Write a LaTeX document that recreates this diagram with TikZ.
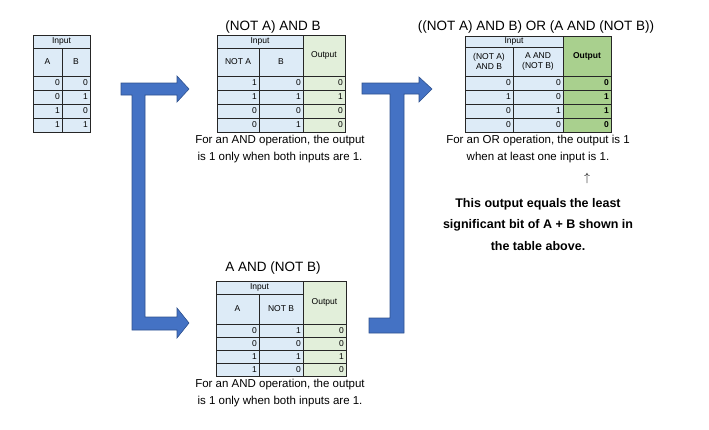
\documentclass[tikz,border=0pt]{standalone}
\usepackage{fontspec}
\setmainfont{Liberation Sans}
\definecolor{inb}{HTML}{DDEBF7}
\definecolor{outl}{HTML}{E2EFDA}
\definecolor{outd}{HTML}{A9D08E}
\definecolor{arrf}{HTML}{4472C4}
\definecolor{arrd}{HTML}{2F528F}
\tikzset{
  cl/.style={draw=black!85,line width=0.8pt},
  tx/.style={inner sep=0pt,font=\fontsize{8.5}{9.5}\selectfont,align=center},
  captxt/.style={inner sep=0pt,align=center,font=\fontsize{11.5}{17}\selectfont},
  ttl/.style={inner sep=0pt,font=\fontsize{13.5}{16}\selectfont},
  barrow/.style={fill=arrf,draw=arrd,line width=0.6pt}
}
\newcommand\drow[5]{%
  \draw[cl,fill=inb] (\xa,#2) rectangle (\xb,{#2+\rh});
  \draw[cl,fill=inb] (\xb,#2) rectangle (\xc,{#2+\rh});
  \node[tx,anchor=east] (#1a) at ({\xb-2},{#2+\rh/2}) {#3};
  \node[tx,anchor=east] (#1b) at ({\xc-2},{#2+\rh/2}) {#4};
  \ifx\xd\relax\else
  \draw[cl,fill=\ocol] (\xc,#2) rectangle (\xd,{#2+\rh});
  \node[tx,anchor=east,font=\fontsize{8.5}{9.5}\selectfont\ofont] (#1o) at ({\xd-2},{#2+\rh/2}) {#5};
  \fi}
\begin{document}
\begin{tikzpicture}[x=1pt,y=-1pt]
\useasboundingbox (0,0) rectangle (709,429);
% arrows
\draw[barrow] (121,83)--(177,83)--(177,76)--(189,89)--(177,102)--(177,95)--(145,95)--(145,317)--(177,317)--(177,308)--(189,323)--(177,338)--(177,330)--(132,330)--(132,95)--(121,95)--cycle;
\draw[barrow] (362,83)--(419,83)--(419,77)--(432,89)--(419,102)--(419,94)--(404,94)--(404,333)--(369,333)--(369,318)--(390,318)--(390,94)--(362,94)--cycle;
% table 1
\def\xa{33}\def\xb{62}\def\xc{90}\let\xd\relax\def\rh{14}
\draw[cl,fill=inb] (33,35) rectangle (90,48);
\node[tx] (t1in) at (61.5,41.5) {Input};
\draw[cl,fill=inb] (33,48) rectangle (62,76);
\draw[cl,fill=inb] (62,48) rectangle (90,76);
\node[tx] (t1A) at (47.5,62) {A};
\node[tx] (t1B) at (76,62) {B};
\drow{t1r1}{76}{0}{0}{}
\drow{t1r2}{90}{0}{1}{}
\drow{t1r3}{104}{1}{0}{}
\drow{t1r4}{118}{1}{1}{}
% table 2
\def\xa{217}\def\xb{259}\def\xc{303}\def\xd{345}\def\rh{14}\def\ocol{outl}\let\ofont\relax
\node[ttl] (t2t) at (273,27) {(NOT A) AND B};
\draw[cl,fill=inb] (217,35) rectangle (303,48);
\node[tx] (t2in) at (260,41.5) {Input};
\draw[cl,fill=inb] (217,48) rectangle (259,76);
\draw[cl,fill=inb] (259,48) rectangle (303,76);
\draw[cl,fill=outl] (303,35) rectangle (345,76);
\node[tx] (t2A) at (238,62) {NOT A};
\node[tx] (t2B) at (281,62) {B};
\node[tx] (t2O) at (324,55) {Output};
\drow{t2r1}{76}{1}{0}{0}
\drow{t2r2}{90}{1}{1}{1}
\drow{t2r3}{104}{0}{0}{0}
\drow{t2r4}{118}{0}{1}{0}
\node[captxt] (t2c) at (280,149.5) {For an AND operation, the output\\is 1 only when both inputs are 1.};
% table 3
\def\xa{465}\def\xb{513}\def\xc{563}\def\xd{611}\def\rh{14}\def\ocol{outd}\def\ofont{\bfseries}
\node[ttl] (t3t) at (536,27) {((NOT A) AND B) OR (A AND (NOT B))};
\draw[cl,fill=inb] (465,36) rectangle (563,47);
\node[tx] (t3in) at (514,41.5) {Input};
\draw[cl,fill=inb] (465,47) rectangle (513,76);
\draw[cl,fill=inb] (513,47) rectangle (563,76);
\draw[cl,fill=outd] (563,36) rectangle (611,76);
\node[tx] (t3A) at (489,61.5) {(NOT A)\\AND B};
\node[tx] (t3B) at (538,61.5) {A AND\\(NOT B)};
\node[tx,font=\fontsize{8.5}{9.5}\selectfont\bfseries] (t3O) at (587,56) {Output};
\drow{t3r1}{76}{0}{0}{0}
\drow{t3r2}{90}{1}{0}{1}
\drow{t3r3}{104}{0}{1}{1}
\drow{t3r4}{118}{0}{0}{0}
\node[captxt] (t3c) at (538,149.5) {For an OR operation, the output is 1\\when at least one input is 1.};
\node[inner sep=0pt,font=\fontsize{12}{14}\selectfont] (up) at (587,178) {$\uparrow$};
\node[inner sep=0pt,align=center,font=\fontsize{12.5}{21.5}\selectfont\bfseries] (note) at (538,224.5) {This output equals the least\\significant bit of A + B shown in\\the table above.};
% table 4
\def\xa{216}\def\xb{259}\def\xc{303}\def\xd{346}\def\rh{13}\def\ocol{outl}\let\ofont\relax
\node[ttl] (t4t) at (273,268) {A AND (NOT B)};
\draw[cl,fill=inb] (216,281) rectangle (303,294);
\node[tx] (t4in) at (259.5,287.5) {Input};
\draw[cl,fill=inb] (216,294) rectangle (259,324);
\draw[cl,fill=inb] (259,294) rectangle (303,324);
\draw[cl,fill=outl] (303,281) rectangle (346,324);
\node[tx] (t4A) at (237.5,309) {A};
\node[tx] (t4B) at (281,309) {NOT B};
\node[tx] (t4O) at (324.5,302) {Output};
\drow{t4r1}{324}{0}{1}{0}
\drow{t4r2}{337}{0}{0}{0}
\drow{t4r3}{350}{1}{1}{1}
\drow{t4r4}{363}{1}{0}{0}
\node[captxt] (t4c) at (280,393.5) {For an AND operation, the output\\is 1 only when both inputs are 1.};
\end{tikzpicture}
\end{document}
